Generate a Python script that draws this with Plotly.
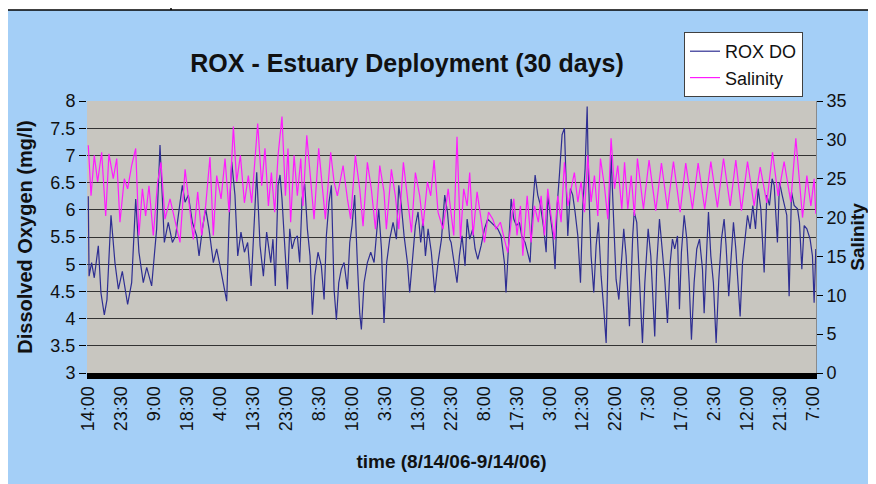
import plotly.graph_objects as go

# ---------------- data ----------------
TITLE = "ROX - Estuary Deployment (30 days)"
X_TITLE = "time (8/14/06-9/14/06)"
Y_TITLE = "Dissolved Oxygen (mg/l)"
Y2_TITLE = "Salinity"

# category tick labels (one label every 33.5 h, starting 8/14/06 14:00)
TIME_LABELS = ["14:00", "23:30", "9:00", "18:30", "4:00", "13:30", "23:00", "8:30",
               "18:00", "3:30", "13:00", "22:30", "8:00", "17:30", "3:00", "12:30",
               "22:00", "7:30", "17:00", "2:30", "12:00", "21:30", "7:00"]
LABEL_STEP_HOURS = 33.5

# ROX DO (mg/l): hours since 8/14/06 14:00 and readings
DO_HOURS = [
    0, 0.8, 3.4, 6.1, 10.2, 12.9, 16.3, 19.0, 23.1, 27.1, 30.6, 34.6, 40.0, 44.1, 48.2,
    51.5, 55.9, 59.4, 64.4, 69.5, 72.9, 77.3, 81.3, 85.5, 88.8, 92.2, 95.6, 98.4, 101.7,
    105.8, 110.2, 112.6, 116.0, 119.3, 122.7, 127.1, 130.5, 133.9, 137.3, 140.7, 143.1,
    145.8, 149.1, 151.9, 155.2, 158.7, 162.0, 165.5, 171.2, 174.6, 178.0, 181.3,
    185.5, 187.7, 190.1, 192.9, 194.9, 196.9, 199.7, 202.4, 204.8, 207.2, 209.8, 212.5,
    214.9, 217.3, 220.0, 222.7, 225.4, 227.8, 230.2, 233.5, 236.9, 239.7, 242.0, 244.7,
    247.1, 249.8, 252.2, 254.6, 257.2, 260.0, 263.4, 265.8, 268.1, 270.8, 273.5, 275.9,
    277.6, 280.3, 283.7, 287.1, 290.5, 292.8, 295.2, 298.0, 300.6, 303.3, 306.4, 309.8,
    313.2, 315.6, 318.2, 321.0, 324.4, 326.7, 329.1, 332.5, 335.2, 337.9, 340.3, 342.7,
    345.4, 348.7, 352.2, 355.5, 359.0, 362.3, 365.1, 367.4,
    368.8, 371.5, 374.8, 377.2, 379.9, 383.0, 385.1, 387.7, 390.8, 393.2, 395.9, 399.3,
    402.7, 406.0, 409.4, 412.8, 416.2, 419.6, 423.0, 424.6, 427.0, 429.8, 432.5, 435.2,
    438.2, 440.6, 444.0, 446.7, 449.1, 451.8, 454.2, 456.9, 459.6, 463.0, 465.4, 467.1,
    469.8, 472.2, 474.5, 476.6, 478.9, 481.6, 484.0, 485.7, 487.4, 490.1, 492.4, 494.8,
    497.6, 500.3, 502.7, 505.0, 507.1, 508.4, 511.1, 513.8, 516.2, 518.5, 521.3, 524.0,
    526.4, 528.8, 531.4, 534.1, 536.5, 539.3, 541.7, 544.3, 546.7, 550.1, 553.4,
    554.9, 557.5, 559.9, 563.3, 565.7, 569.1, 571.8, 575.8, 577.9, 580.6, 583.6, 586.0,
    588.7, 591.5, 593.8, 596.1, 598.9, 600.9, 602.9, 605.7, 608.4, 610.8, 613.1, 615.8,
    618.5, 621.3, 624.3, 626.0, 628.8, 630.4, 632.8, 635.4, 638.2, 640.9, 643.6, 646.3,
    648.3, 651.0, 653.1, 655.8, 658.2, 660.6, 662.6, 665.0, 667.7, 670.1, 672.7, 675.5,
    678.2, 680.9, 683.6, 687.0, 689.7, 692.4, 695.1, 697.2, 700.5, 702.6, 705.3, 708.0,
    710.0, 712.4, 714.8, 717.5, 720.9, 722.9, 725.3, 727.7, 730.4, 733.7, 736.1, 737.8,
    739.5]
DO_MGL = [
    6.25, 4.78, 5.03, 4.75, 5.34, 4.47, 4.07, 4.35, 5.9, 5.03, 4.54, 4.87, 4.26, 4.66, 6.2,
    5.22, 4.66, 4.94, 4.6, 5.65, 7.19, 5.4, 5.77, 5.4, 5.52, 5.96, 6.45, 6.14, 6.27,
    5.77, 5.52, 5.15, 5.65, 6.02, 5.65, 5.03, 5.28, 4.97, 4.66, 4.32, 5.77,
    6.88, 6.27, 5.15, 5.59, 5.22, 5.4, 4.6, 6.69, 5.34, 4.78, 5.59,
    5.03, 5.46, 4.6, 6.45, 6.64, 6.2, 5.34, 4.54, 5.65, 5.28, 5.46, 5.52,
    5.03, 6.2, 6.48, 5.65, 5.15, 4.07, 4.78, 5.22, 4.97, 4.35, 5.52, 6.14,
    6.45, 4.54, 3.98, 4.66, 4.91, 5.03, 4.54, 5.4, 5.71, 6.27, 5.03, 4.1,
    3.8, 4.66, 5.03, 5.22, 5.03, 5.59, 6.02, 5.28, 3.92, 5.03, 5.46, 5.77,
    5.46, 6.45, 6.08, 5.52, 5.03, 4.48, 4.97, 5.71, 5.96, 5.4, 5.83, 5.15,
    5.65, 5.22, 4.48, 5.03, 5.46, 6.27, 5.96, 5.46,
    5.4, 5.03, 4.66, 5.15, 5.52, 4.97, 5.83, 5.46, 5.65, 5.28, 5.09, 5.34,
    5.65, 5.83, 5.77, 5.71, 5.65, 5.52, 5.03, 4.48, 5.34, 6.2, 5.83, 5.71,
    5.77, 5.52, 5.4, 5.22, 5.03, 6.08, 6.64, 6.27, 6.08, 5.65, 5.22, 6.27,
    5.83, 5.52, 4.91, 6.08, 6.64, 7.38, 7.5, 6.57, 5.52, 6.39, 6.27, 5.96,
    5.52, 4.66, 6.08, 6.76, 7.9, 6.57, 5.15, 4.48, 5.34, 5.77, 4.78, 4.17,
    3.55, 5.52, 7.0, 5.77, 4.72, 4.35, 5.03, 5.65, 5.15, 3.86, 5.52,
    5.96, 5.77, 4.72, 3.55, 4.66, 5.65, 5.15, 3.67, 5.03, 5.83, 5.22, 4.72,
    3.92, 5.03, 5.46, 5.28, 5.52, 4.17, 5.22, 5.9, 5.46, 4.66, 3.61, 4.66,
    5.28, 5.46, 4.91, 4.1, 5.34, 5.96, 5.15, 4.66, 3.55, 4.72, 5.46, 5.83,
    5.34, 4.41, 5.03, 5.77, 5.28, 4.66, 4.04, 5.03, 5.52, 5.9, 5.65, 6.08,
    5.65, 6.39, 6.02, 4.85, 6.27, 6.08, 6.57, 6.45, 5.4, 6.51, 6.27, 6.02,
    5.9, 4.41, 6.33, 6.08, 6.02, 5.77, 4.91, 5.71, 5.65, 5.46, 5.15, 4.29,
    5.28]

# Salinity: hours since 8/14/06 14:00 and readings
SAL_HOURS = [
    0, 2.8, 6.1, 9.5, 13.6, 17.7, 21.0, 25.4, 28.9, 32.2, 36.6, 40.0, 44.1, 48.2, 51.5,
    55.0, 58.3, 61.7, 66.1, 70.5, 73.9, 78.0, 83.1, 93.2, 98.4, 102.4, 106.8, 111.2,
    115.3, 119.3, 123.7, 127.1, 130.5, 135.0, 139.0, 143.1, 147.5, 150.8, 154.6, 158.7,
    162.7, 166.1, 172.2, 176.3, 179.6, 183.1,
    186.1, 189.5, 192.9, 196.9, 200.4, 203.0, 205.7, 209.2, 212.5, 216.0, 218.2, 222.1,
    226.1, 229.5, 234.2, 237.7, 241.0, 246.4, 249.8, 253.2, 259.0, 263.4, 266.7, 271.5,
    275.9, 279.3, 283.7, 287.7, 291.9, 296.3, 300.6, 303.0, 308.1, 312.1, 315.6, 320.3,
    324.4, 328.5, 332.5, 336.9, 340.3, 344.7, 348.1, 351.5, 355.5, 360.6, 365.8,
    371.5, 374.8, 378.3, 381.6, 385.1, 387.7, 391.1, 395.2, 399.3, 402.7, 406.8, 411.2,
    414.5, 418.9, 423.0, 426.4, 429.8, 432.5, 435.8, 439.3, 441.7, 446.1, 450.1, 453.5,
    457.5, 460.3, 463.7, 467.1, 470.4, 473.8, 477.2, 480.6, 484.0, 487.4, 490.8, 494.1,
    497.6, 500.9, 504.4, 507.7, 511.1, 514.5, 517.9, 520.6, 524.6, 528.1, 531.4, 534.9,
    538.2, 542.3, 545.1, 548.4, 551.9,
    555.1, 558.2, 564.3, 570.0, 576.8, 582.6, 588.7, 594.8, 601.6, 607.3, 614.1, 619.9,
    626.6, 632.8, 639.5, 645.7, 652.5, 658.2, 663.9, 670.1, 676.8, 683.0, 689.7, 695.5,
    701.2, 707.3, 714.1, 719.2, 726.0, 730.4, 734.5, 737.8, 739.5]
SALINITY = [
    29.3, 22.8, 28, 24.6, 28.4, 20.2, 28.2, 25, 27.6, 19.4, 25, 23.7, 26.7, 28.9, 17.7,
    23.7, 20.2, 24.1, 17.7, 24.6, 27.1, 19.8, 22.4, 16.8, 26.2, 21.9, 17.2, 23.3,
    17.7, 21.5, 27.8, 17.7, 25.4, 22.4, 27.6, 20.7, 31.7, 24.6, 28, 21.9,
    25.4, 21.9, 32.1, 24.1, 28.9, 21.5,
    25.8, 20.7, 28, 33, 22.8, 28.9, 19.4, 28, 22.8, 27.6, 21.5, 30.6,
    25, 19.8, 28.9, 24.6, 19.8, 28.4, 24.6, 22.8, 26.7, 22.4, 19.8, 28,
    23.7, 18.9, 27.1, 23.7, 18.5, 26.7, 23.3, 18.5, 26.2, 22.8, 18.5, 27.1,
    22.8, 18.1, 25.8, 22.8, 18.9, 24.6, 22.8, 27.4, 20.7, 18.5, 23.7,
    17.7, 30.4, 17.2, 23.7, 21.5, 25.8, 17.7, 23.3, 19.4, 16.8, 20.7, 19.8,
    18.5, 19.4, 17.2, 15.5, 19.4, 22.4, 17.7, 21.5, 15.1, 22.8, 16.8, 21.5,
    19.4, 22.8, 17.7, 23.7, 20.2, 17.2, 22.8, 19.4, 27.1, 21.5, 23.7, 25.8,
    22, 24.6, 20.7, 28, 22, 25.4, 20.2, 27.6, 24.1, 19.8, 30.2, 23.7,
    26.7, 21.1, 27.1, 21.1, 25.4,
    20.2, 27.6, 21.1, 27.4, 20.9, 27.0, 21.1, 27.2, 20.7, 27.0, 21.1, 27.0,
    21.1, 27.2, 21.3, 27.6, 21.5, 27.4, 20.9, 27.2, 21.5, 26.5, 21.9, 28.4,
    22.8, 27.2, 22.0, 30.2, 20.0, 25.4, 21.5, 25.0, 20.5]

DO_RANGE = [3, 8]
SAL_RANGE = [0, 35]
TIME_RANGE = [-1.3, 739.7]

# ---------------- styling ----------------
FONT = "Liberation Sans, Arial, sans-serif"
BG_BLUE = "#a4cff7"
PLOT_GRAY = "#c8c6c0"
TXT = "#111111"

W, H = 876, 484
OFF = 8  # the page body offsets the figure by 8 px
# target plot-area box in window pixels
PL, PR, PT, PB = 87, 816, 101, 373
ML, MT = PL - OFF, PT - OFF
MR, MB = W - (PR - OFF), H - (PB - OFF)
PW, PH = PR - PL, PB - PT


def px_x(p):
    """window x pixel -> paper coordinate"""
    return (p - PL) / PW


def px_y(p):
    """window y pixel -> paper coordinate"""
    return (PB - p) / PH


fig = go.Figure()
fig.add_trace(go.Scatter(x=DO_HOURS, y=DO_MGL, name="ROX DO", mode="lines",
                         line=dict(color="#2e2e92", width=1.2), yaxis="y"))
fig.add_trace(go.Scatter(x=SAL_HOURS, y=SALINITY, name="Salinity", mode="lines",
                         line=dict(color="#ff1aff", width=1.2), yaxis="y2"))

tickvals = [LABEL_STEP_HOURS * i for i in range(len(TIME_LABELS))]

shapes = [
    # white page outside the chart frame
    dict(type="rect", xref="paper", yref="paper", x0=px_x(-20), x1=px_x(W + 20),
         y0=px_y(10), y1=px_y(-20), fillcolor="white", line=dict(width=0), layer="below"),
    dict(type="rect", xref="paper", yref="paper", x0=px_x(-20), x1=px_x(6),
         y0=px_y(H + 20), y1=px_y(-20), fillcolor="white", line=dict(width=0), layer="below"),
    # chart frame
    dict(type="line", xref="paper", yref="paper", x0=px_x(6), x1=px_x(W + 20),
         y0=px_y(10), y1=px_y(10), line=dict(color="black", width=1.5)),
    dict(type="line", xref="paper", yref="paper", x0=px_x(6), x1=px_x(6),
         y0=px_y(10), y1=px_y(H + 20), line=dict(color="black", width=1.5)),
    dict(type="line", xref="paper", yref="paper", x0=px_x(171), x1=px_x(171),
         y0=px_y(0), y1=px_y(10), line=dict(color="black", width=1.5)),
]

fig.update_layout(
    width=W, height=H,
    margin=dict(l=ML, r=MR, t=MT, b=MB),
    paper_bgcolor=BG_BLUE,
    plot_bgcolor=PLOT_GRAY,
    font=dict(family=FONT, size=18, color=TXT),
    showlegend=True,
    title=dict(text="<b>" + TITLE + "</b>", x=px_x(407), xref="paper", xanchor="center",
               y=1 - (63 - OFF) / H, yref="container", yanchor="middle",
               font=dict(family=FONT, size=25, color=TXT)),
    legend=dict(x=px_x(684), y=px_y(32), xanchor="left", yanchor="top",
                bgcolor="white", bordercolor="#404040", borderwidth=1,
                font=dict(family=FONT, size=18, color=TXT),
                itemwidth=30, tracegroupgap=0),
    xaxis=dict(range=TIME_RANGE, tickmode="array", tickvals=tickvals, ticktext=TIME_LABELS,
               tickangle=-90, ticks="", showgrid=False, zeroline=False,
               showline=True, linecolor="black", linewidth=6,
               tickfont=dict(family=FONT, size=18, color=TXT),
               title=dict(text="<b>" + X_TITLE + "</b>", standoff=26,
                          font=dict(family=FONT, size=19, color=TXT))),
    yaxis=dict(range=DO_RANGE, dtick=0.5, tick0=3, ticks="outside", ticklen=7,
               tickcolor="black", tickwidth=1, showgrid=True, gridcolor="#333333",
               gridwidth=1, zeroline=False, showline=False,
               tickfont=dict(family=FONT, size=18, color=TXT),
               title=dict(text="<b>" + Y_TITLE + "</b>", standoff=12,
                          font=dict(family=FONT, size=20, color=TXT))),
    yaxis2=dict(range=SAL_RANGE, dtick=5, tick0=0, overlaying="y", side="right",
                ticks="outside", ticklen=6, tickcolor="black", tickwidth=1,
                showgrid=False, zeroline=False, showline=True, linecolor="#8a8a8a",
                linewidth=1,
                tickfont=dict(family=FONT, size=18, color=TXT),
                title=dict(text="<b>" + Y2_TITLE + "</b>", standoff=2,
                           font=dict(family=FONT, size=19, color=TXT))),
    shapes=shapes,
)

fig.write_html("out.html")
